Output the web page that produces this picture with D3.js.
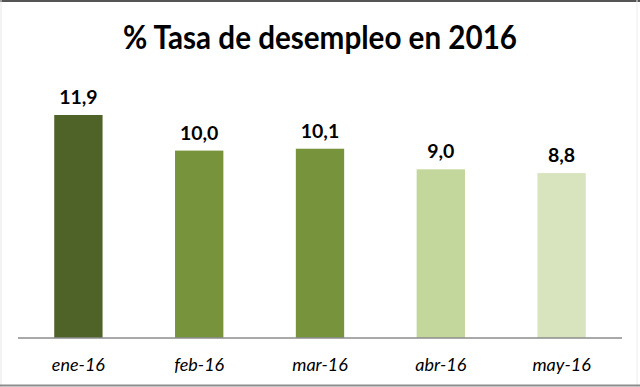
<!DOCTYPE html>
<html><head><meta charset="utf-8">
<script src="https://cdn.jsdelivr.net/npm/d3@7"></script>
<style>html,body{margin:0;padding:0;background:#fff;}svg{display:block;}</style>
</head><body>
<svg id="c" width="640" height="387"></svg>
<script>
const categories = ["ene-16","feb-16","mar-16","abr-16","may-16"];
const values = [11.9, 10.0, 10.1, 9.0, 8.8];
const colors = ["#4f6228","#77933c","#77933c","#c3d69b","#d7e4bd"];
const title = "% Tasa de desempleo en 2016";

const svg = d3.select("#c");
const W = 640, H = 387;
// frame
svg.append("rect").attr("x",0).attr("y",0).attr("width",W).attr("height",2).attr("fill","#555");
svg.append("line").attr("x1",1).attr("x2",1).attr("y1",0).attr("y2",H).attr("stroke","#e6e6e6").attr("stroke-width",1);
svg.append("line").attr("x1",W-3).attr("x2",W-3).attr("y1",0).attr("y2",H).attr("stroke","#ececec").attr("stroke-width",1);
svg.append("rect").attr("x",0).attr("y",H-2.5).attr("width",W).attr("height",2).attr("fill","#8c8c8c");

const x = d3.scaleBand().domain(categories).range([18, 622]).paddingInner(0.6).paddingOuter(0.3);
const y = d3.scaleLinear().domain([0, 14]).range([338, 338 - 14 * 18.74]);

svg.append("text").attr("x", 320).attr("y", 49).attr("text-anchor","middle")
  .attr("font-family","Lato, 'Open Sans', sans-serif").attr("font-weight","bold")
  .attr("font-size", 32).attr("textLength", 394).attr("lengthAdjust","spacingAndGlyphs")
  .attr("fill","#000").text(title);

svg.selectAll("rect.bar").data(values).join("rect").attr("class","bar")
  .attr("x",(d,i)=>x(categories[i])).attr("width",x.bandwidth())
  .attr("y",d=>y(d)).attr("height",d=>y(0)-y(d)).attr("fill",(d,i)=>colors[i]);

svg.selectAll("text.val").data(values).join("text").attr("class","val")
  .attr("x",(d,i)=>x(categories[i])+x.bandwidth()/2).attr("y",d=>y(d)-11)
  .attr("text-anchor","middle").attr("font-family","Lato, sans-serif").attr("font-weight","bold")
  .attr("font-size",19.5).attr("fill","#000")
  .text(d=>d.toFixed(1).replace(".",","));

const ax = svg.append("g").attr("transform","translate(0,338)")
  .call(d3.axisBottom(x).tickSize(0).tickPadding(20).tickSizeOuter(0));
ax.select(".domain").attr("stroke","#8c8c8c").attr("stroke-width",1.3)
  .attr("d","M18,0H622");
ax.selectAll("text").attr("font-family","Lato, sans-serif").attr("font-style","italic")
  .attr("font-size",18).attr("fill","#000");
</script>
</body></html>
